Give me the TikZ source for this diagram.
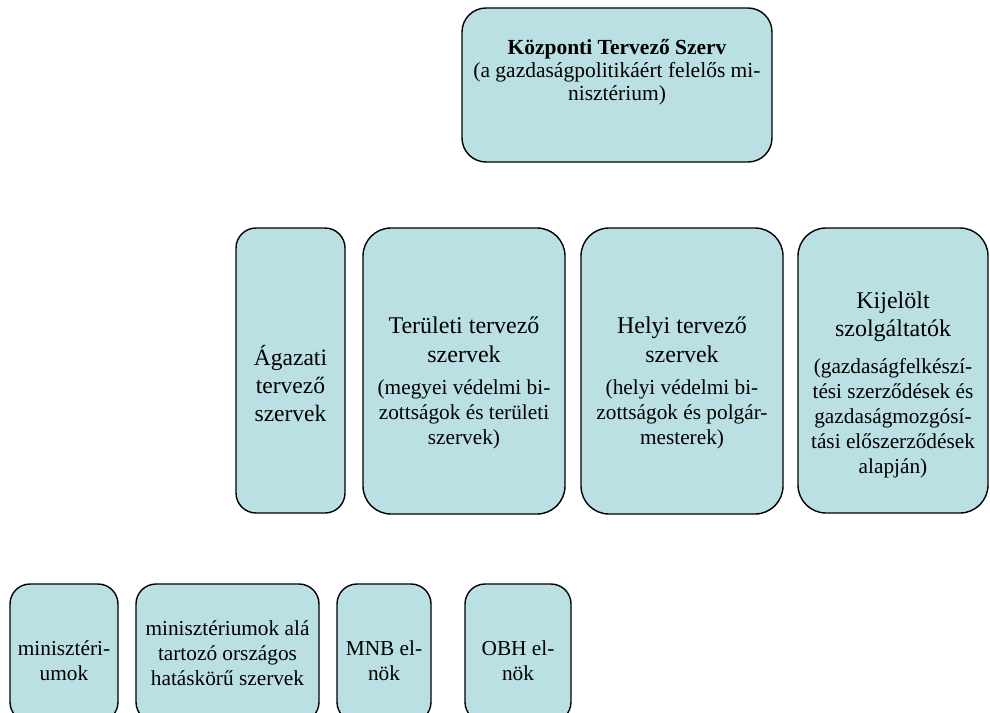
\documentclass[tikz,border=0pt]{standalone}
\usepackage{fontspec}
\setmainfont{Liberation Serif}
\definecolor{boxfill}{RGB}{187,224,227}
\newcommand{\ttlsize}{\fontsize{24}{29}\selectfont}
\newcommand{\bodysize}{\fontsize{21.3}{25}\selectfont}
\tikzset{
  box/.style={draw=black, line width=1.4pt, fill=boxfill, rounded corners=#1, inner sep=0pt},
  box/.default=24pt,
  txt/.style={align=center, inner sep=0pt, text=black},
  bodyfont/.style={font=\bodysize},
}
\begin{document}
\begin{tikzpicture}[x=1pt,y=-1pt]
\useasboundingbox (0,0) rectangle (990,712);
\clip (0,0) rectangle (990,712);
% boxes
\node[box, minimum width=310pt, minimum height=154pt] (kts) at (617,85) {};
\node[box=20pt, minimum width=109pt, minimum height=285pt] (ag) at (290.5,370.5) {};
\node[box=28pt, minimum width=202pt, minimum height=286pt] (ter) at (464,371) {};
\node[box=28pt, minimum width=202pt, minimum height=286pt] (hel) at (682,371) {};
\node[box=28pt, minimum width=190pt, minimum height=285pt] (kij) at (893,370.5) {};
\node[box=20pt, minimum width=108pt, minimum height=138pt] (min) at (64,653) {};
\node[box=20pt, minimum width=183pt, minimum height=138pt] (mal) at (227.5,653) {};
\node[box=20pt, minimum width=94pt, minimum height=138pt] (mnb) at (384,653) {};
\node[box=20pt, minimum width=106pt, minimum height=138pt] (obh) at (518,653) {};
% texts
\node[txt, font=\fontsize{21.5}{23}\selectfont] (ktst) at ([yshift=13pt]kts.center)
  {\textbf{Központi Tervező Szerv}\\(a gazdaságpolitikáért felelős mi-\\nisztérium)};
\node[txt, font=\fontsize{23.5}{28}\selectfont] (agt) at ([yshift=-13pt]ag.center)
  {Ágazati\\tervező\\szervek};
\node[txt, bodyfont] (tert) at ([yshift=-12pt]ter.center)
  {{\ttlsize Területi tervező}\\[4pt]{\ttlsize szervek}\\[7pt](megyei védelmi bi-\\zottságok és területi\\szervek)};
\node[txt, bodyfont] (helt) at ([yshift=-12pt]hel.center)
  {{\ttlsize Helyi tervező}\\[4pt]{\ttlsize szervek}\\[7pt](helyi védelmi bi-\\zottságok és polgár-\\mesterek)};
\node[txt, bodyfont] (kijt) at ([yshift=-14pt]kij.center)
  {{\ttlsize Kijelölt}\\[3pt]{\ttlsize szolgáltatók}\\[12pt](gazdaságfelkészí-\\tési szerződések és\\gazdaságmozgósí-\\tási előszerződések\\alapján)};
\node[txt, bodyfont] (mint) at ([yshift=-8pt]min.center) {minisztéri-\\umok};
\node[txt, bodyfont] (malt) at (mal.center) {minisztériumok alá\\tartozó országos\\hatáskörű szervek};
\node[txt, bodyfont] (mnbt) at ([yshift=-8pt]mnb.center) {MNB el-\\nök};
\node[txt, bodyfont] (obht) at ([yshift=-8pt]obh.center) {OBH el-\\nök};
\end{tikzpicture}
\end{document}
